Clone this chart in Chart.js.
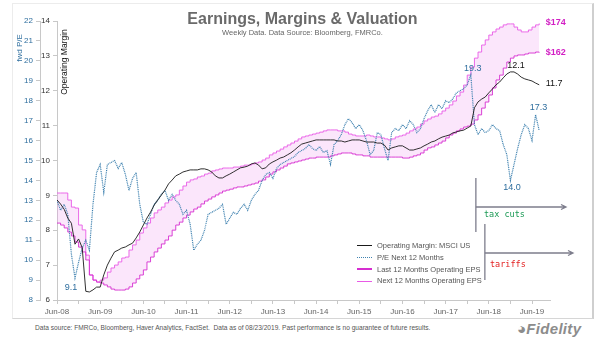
<!DOCTYPE html>
<html>
<head>
<meta charset="utf-8">
<script src="https://cdn.jsdelivr.net/npm/chart.js@4.4.1/dist/chart.umd.min.js"></script>
<style>
  body { margin: 0; background: #fff; font-family: 'Liberation Sans', Arial, sans-serif; }
  #wrap { position: relative; width: 605px; height: 341px; overflow: hidden; }
  #frame { position: absolute; left: 12px; top: 3px; width: 582px; height: 316px; box-sizing: border-box;
           border: 1px solid #ececec; border-right: 2px solid #cfcfcf; border-bottom: 1px solid #d6d6d6; }
  #box { position: absolute; left: 0; top: 0; width: 605px; height: 318px; }
  .txt { position: absolute; white-space: nowrap; }
  .rot { position: absolute; white-space: nowrap; transform: translate(-50%, -50%) rotate(-90deg); }
  #legend { position: absolute; left: 357px; top: 240px; font-size: 7.5px; color: #555; }
  #legend .row { height: 11.8px; line-height: 11.8px; display: flex; align-items: center; }
  #legend .sw { width: 15px; height: 0; margin-right: 5px; }
</style>
</head>
<body>
<div id="wrap">
  <div id="frame"></div>
  <div id="box"><canvas id="chart"></canvas></div>
  <div class="txt" style="left:0;width:605px;top:10px;text-align:center;font-size:16px;font-weight:bold;color:#6a6a6a;">Earnings, Margins &amp; Valuation</div>
  <div class="txt" style="left:0;width:605px;top:28px;text-align:center;font-size:7.5px;color:#666;">Weekly Data. Data Source: Bloomberg, FMRCo.</div>
  <div class="rot" style="left:18.5px;top:48px;font-size:8px;color:#2f6f9f;">fwd P/E</div>
  <div class="rot" style="left:63.5px;top:62px;font-size:8.5px;color:#111;">Operating Margin</div>
  <div id="legend"></div>
  <div class="txt" style="left:484px;top:209px;font-size:8.5px;color:#1b9a55;font-family:'DejaVu Sans Mono',monospace;">tax cuts</div>
  <div class="txt" style="left:490px;top:259px;font-size:8.5px;color:#e32020;font-family:'DejaVu Sans Mono',monospace;">tariffs</div>
  <div class="txt" style="left:35px;top:324px;font-size:6.6px;color:#555;">Data source: FMRCo, Bloomberg, Haver Analytics, FactSet.&nbsp; Data as of 08/23/2019. Past performance is no guarantee of future results.</div>
  <div class="txt" style="left:517px;top:320px;font-size:15px;font-weight:bold;font-style:italic;color:#8c8c8c;letter-spacing:0.3px;">&#9685;Fidelity</div>
</div>
<script>
// x axis: one value per month, starting Jun-08 (index 0) through Aug-19 (index 134)
const tickLabels = ['Jun-08', 'Jun-09', 'Jun-10', 'Jun-11', 'Jun-12', 'Jun-13',
  'Jun-14', 'Jun-15', 'Jun-16', 'Jun-17', 'Jun-18', 'Jun-19'];

const peNext12 = [
  13.0, 12.5, 12.8, 12.3, 10.3, 9.1, 9.9, 10.6, 11.0, 10.5, 12.8, 14.4,
  14.8, 13.4, 14.8, 14.9, 15.0, 14.6, 14.9, 14.3, 13.5, 14.1, 14.4, 12.8,
  11.9, 11.8, 12.3, 12.8, 13.0, 13.3, 13.5, 13.0, 13.3, 13.0, 12.8, 12.3,
  12.5, 11.8, 10.5, 10.8, 11.0, 11.5, 12.3, 12.4, 12.5, 12.6, 12.8, 11.8,
  12.1, 12.4, 12.3, 12.6, 12.8, 12.5, 13.0, 13.3, 13.5, 14.0, 14.3, 14.4,
  14.1, 14.6, 14.8, 14.9, 15.0, 15.1, 15.2, 15.4, 15.5, 15.6, 15.8, 15.6,
  15.5, 15.7, 15.4, 15.5, 14.8, 15.8, 16.0, 16.3, 16.8, 17.1, 16.9, 16.6,
  16.8, 16.5, 16.0, 15.3, 15.5, 16.4, 16.3, 15.6, 15.0, 16.4, 16.6, 16.5,
  16.8, 16.6, 17.0, 16.8, 16.4, 16.6, 17.1, 17.5, 17.8, 17.4, 17.8, 17.6,
  18.0, 17.9, 18.1, 18.4, 18.5, 18.6, 18.8, 19.3, 16.8, 16.3, 16.6, 16.4,
  16.5, 16.8, 16.6, 16.5, 15.8, 15.3, 14.0, 14.8, 15.6, 16.3, 16.8, 16.6,
  16.0, 17.3, 16.5
];

const opMargin = [
  8.87, 8.75, 8.60, 8.35, 8.20, 7.60, 7.75, 7.50, 6.25, 6.23, 6.29, 6.37,
  6.37, 6.72, 7.00, 7.20, 7.38, 7.43, 7.49, 7.52, 7.58, 7.63, 7.78, 7.95,
  8.15, 8.35, 8.52, 8.72, 8.87, 9.01, 9.15, 9.33, 9.44, 9.56, 9.61, 9.67,
  9.70, 9.73, 9.73, 9.73, 9.76, 9.76, 9.73, 9.67, 9.56, 9.50, 9.50, 9.56,
  9.61, 9.67, 9.73, 9.79, 9.81, 9.84, 9.90, 9.93, 9.87, 9.76, 9.79, 9.90,
  9.96, 10.01, 10.07, 10.10, 10.16, 10.22, 10.30, 10.39, 10.47, 10.50, 10.53, 10.56,
  10.59, 10.59, 10.59, 10.59, 10.59, 10.59, 10.56, 10.56, 10.53, 10.56, 10.59, 10.59,
  10.59, 10.56, 10.53, 10.53, 10.53, 10.50, 10.50, 10.44, 10.30, 10.36, 10.39, 10.42,
  10.42, 10.36, 10.30, 10.30, 10.33, 10.36, 10.42, 10.47, 10.53, 10.56, 10.62, 10.67,
  10.70, 10.73, 10.79, 10.82, 10.85, 10.87, 10.93, 10.99, 11.51, 11.68, 11.76, 11.82,
  11.94, 12.05, 12.17, 12.25, 12.37, 12.48, 12.54, 12.54, 12.48, 12.39, 12.34, 12.31,
  12.28, 12.22, 12.17
];

const epsLast12 = [
  91.7, 90.9, 89.7, 88.0, 86.4, 83.9, 81.8, 79.8, 76.5, 70.3, 68.2, 67.4,
  67.0, 66.2, 65.4, 64.5, 64.1, 64.1, 64.1, 64.5, 65.4, 67.0, 68.7, 70.3,
  72.4, 75.7, 77.7, 79.8, 81.4, 83.1, 84.7, 86.4, 88.8, 90.9, 92.1, 93.8,
  95.0, 96.3, 97.5, 98.3, 99.6, 100.8, 101.6, 102.5, 103.3, 104.1, 104.9, 105.3,
  105.7, 106.2, 106.6, 106.6, 107.0, 107.4, 107.8, 108.2, 109.0, 109.5, 110.7, 111.9,
  112.8, 113.6, 114.4, 115.2, 116.1, 116.5, 116.9, 117.3, 117.7, 118.1, 118.5, 118.5,
  118.9, 118.9, 118.9, 118.9, 119.4, 119.8, 120.2, 120.6, 120.6, 120.6, 120.2, 119.8,
  119.8, 119.4, 119.4, 118.9, 118.9, 118.9, 118.9, 118.9, 118.9, 118.9, 118.9, 118.9,
  118.5, 118.5, 118.9, 119.4, 119.8, 120.6, 121.8, 122.7, 123.1, 123.9, 124.7, 125.5,
  126.8, 128.0, 128.8, 129.7, 130.5, 131.3, 131.7, 132.5, 134.2, 136.3, 139.1, 141.6,
  144.5, 147.4, 150.7, 152.7, 155.6, 158.1, 159.7, 160.6, 161.0, 161.0, 161.4, 161.8,
  161.8, 162.2, 162.0
];

const epsNext12 = [
  104.1, 104.1, 104.1, 101.2, 98.3, 97.9, 90.9, 88.9, 78.5, 70.3, 68.2, 67.4,
  68.2, 69.1, 71.5, 73.2, 74.4, 75.7, 77.3, 77.7, 80.6, 82.7, 84.7, 87.6,
  89.7, 91.7, 93.8, 95.9, 97.1, 98.3, 100.0, 101.2, 102.5, 103.3, 105.3, 107.0,
  108.6, 109.5, 109.9, 110.7, 111.1, 111.9, 112.3, 113.2, 113.6, 114.0, 114.4, 114.4,
  114.4, 114.8, 114.8, 115.2, 115.6, 115.6, 116.1, 116.5, 116.9, 117.7, 118.5, 119.8,
  120.6, 121.4, 122.2, 123.1, 123.9, 124.7, 125.5, 126.4, 127.2, 127.6, 128.0, 128.4,
  128.8, 129.2, 129.7, 130.1, 130.1, 130.1, 129.7, 129.7, 129.2, 128.4, 128.0, 127.6,
  127.6, 127.6, 128.0, 127.6, 127.2, 127.2, 126.8, 126.4, 126.0, 126.4, 127.2, 127.6,
  128.0, 128.8, 129.7, 130.5, 131.3, 132.5, 133.8, 134.6, 135.4, 135.8, 136.7, 137.9,
  139.1, 140.4, 142.0, 144.1, 145.7, 148.6, 152.7, 156.0, 159.7, 162.2, 165.1, 167.2,
  169.2, 170.5, 171.7, 172.5, 173.4, 173.8, 173.8, 172.5, 171.3, 170.5, 170.5, 171.3,
  172.5, 173.4, 174.0
];

// event markers (month index)
const taxCutsMonth = 116.4;
const tariffsMonth = 118.9;

const colors = {
  margin: '#1a1a1a',
  pe: '#3f82b0',
  peText: '#2e6e9e',
  last12: '#d62ed0',
  next12: '#e95ae6',
  band: 'rgba(238, 150, 238, 0.24)',
  axis: '#c8c8c8',
  marker: '#7d7d8c'
};

const valueNotes = [
  { text: '$174', month: 134, value: 174.0, axis: 'yEps', color: '#d21fc4', dx: 6.5, dy: -1, align: 'left', bold: true },
  { text: '$162', month: 134, value: 162.0, axis: 'yEps', color: '#d21fc4', dx: 6.5, dy: 0, align: 'left', bold: true },
  { text: '12.1', month: 126, value: 12.54, axis: 'yMargin', color: '#111', dx: 5.5, dy: -6, align: 'center' },
  { text: '11.7', month: 134, value: 12.17, axis: 'yMargin', color: '#111', dx: 6.5, dy: -1, align: 'left' },
  { text: '19.3', month: 115, value: 19.3, axis: 'yPe', color: colors.peText, dx: 2, dy: -6, align: 'center' },
  { text: '17.3', month: 133, value: 17.3, axis: 'yPe', color: colors.peText, dx: 3, dy: -7, align: 'center' },
  { text: '14.0', month: 126, value: 14.0, axis: 'yPe', color: colors.peText, dx: 1.5, dy: 7, align: 'center' },
  { text: '9.1', month: 5, value: 9.1, axis: 'yPe', color: colors.peText, dx: -4, dy: 9, align: 'center' }
];

const pts = arr => arr.map((v, i) => ({ x: i, y: v }));

const arrow = (ctx, x1, y, x2) => {
  ctx.beginPath();
  ctx.moveTo(x1, y);
  ctx.lineTo(x2, y);
  ctx.moveTo(x2 - 5, y - 2.5);
  ctx.lineTo(x2, y);
  ctx.lineTo(x2 - 5, y + 2.5);
  ctx.stroke();
};

const notesPlugin = {
  id: 'notes',
  afterDatasetsDraw(chart) {
    const { ctx, scales } = chart;
    const xs = scales.x;
    ctx.save();
    // tax cuts / tariffs markers
    ctx.strokeStyle = colors.marker;
    ctx.lineWidth = 1.3;
    const xt = xs.getPixelForValue(taxCutsMonth);
    ctx.beginPath(); ctx.moveTo(xt, 178); ctx.lineTo(xt, 232); ctx.stroke();
    arrow(ctx, xt, 207, 566);
    const xr = xs.getPixelForValue(tariffsMonth);
    ctx.beginPath(); ctx.moveTo(xr, 224); ctx.lineTo(xr, 280); ctx.stroke();
    arrow(ctx, xr, 253, 573);

    // value labels
    ctx.textBaseline = 'middle';
    valueNotes.forEach(n => {
      const x = xs.getPixelForValue(n.month) + n.dx;
      const y = scales[n.axis].getPixelForValue(n.value) + n.dy;
      ctx.font = (n.bold ? 'bold ' : '') + '9px "Liberation Sans", Arial, sans-serif';
      ctx.fillStyle = n.color;
      ctx.textAlign = n.align;
      ctx.fillText(n.text, x, y);
    });
    ctx.restore();
  }
};

const datasets = [
  { label: 'Operating Margin: MSCI US', data: pts(opMargin), yAxisID: 'yMargin',
    borderColor: colors.margin, borderWidth: 0.9, order: 0 },
  { label: 'P/E Next 12 Months', data: pts(peNext12), yAxisID: 'yPe',
    borderColor: colors.pe, borderWidth: 1.2, borderDash: [1, 0.8], order: 1 },
  { label: 'Last 12 Months Operating EPS', data: pts(epsLast12), yAxisID: 'yEps',
    borderColor: colors.last12, borderWidth: 0.9, stepped: true, order: 2 },
  { label: 'Next 12 Months Operating EPS', data: pts(epsNext12), yAxisID: 'yEps',
    borderColor: colors.next12, borderWidth: 0.9, stepped: true, order: 3,
    fill: { target: 2 }, backgroundColor: colors.band }
];

// legend (html)
const legendEl = document.getElementById('legend');
const legendStyle = [
  'border-top: 1.5px solid ' + colors.margin,
  'border-top: 1.2px dotted ' + colors.pe,
  'border-top: 2.2px solid ' + colors.last12,
  'border-top: 1.2px solid ' + colors.next12
];
datasets.forEach((d, i) => {
  const row = document.createElement('div');
  row.className = 'row';
  row.innerHTML = '<span class="sw" style="' + legendStyle[i] + '"></span><span>' + d.label + '</span>';
  legendEl.appendChild(row);
});

const tickFont = { family: '"Liberation Sans", Arial, sans-serif', size: 8 };

new Chart(document.getElementById('chart').getContext('2d'), {
  type: 'line',
  data: { datasets },
  options: {
    responsive: true,
    maintainAspectRatio: false,
    animation: false,
    layout: { padding: { left: 8, right: 55, top: 21, bottom: 0 } },
    elements: { point: { radius: 0 }, line: { tension: 0 } },
    plugins: { legend: { display: false }, tooltip: { enabled: false } },
    scales: {
      x: {
        type: 'linear',
        min: 0,
        max: 137,
        grid: { drawOnChartArea: false, color: colors.axis, tickLength: 4 },
        border: { color: colors.axis },
        afterFit: s => { s.height = 18; },
        ticks: {
          stepSize: 6,
          includeBounds: false,
          autoSkip: false,
          maxRotation: 0,
          padding: 3,
          color: '#666',
          font: tickFont,
          callback: v => (v % 12 === 0 ? tickLabels[v / 12] : '')
        }
      },
      yPe: {
        position: 'left',
        weight: 2,
        min: 8,
        max: 22,
        afterFit: s => { s.width = 32; },
        grid: { drawOnChartArea: false, color: colors.axis, tickLength: 4 },
        border: { color: colors.axis, dash: [1, 1] },
        ticks: { stepSize: 1, padding: 3, color: colors.peText, font: tickFont }
      },
      yMargin: {
        position: 'left',
        weight: 1,
        min: 6,
        max: 14,
        afterFit: s => { s.width = 17; },
        grid: { drawOnChartArea: false, color: colors.axis, tickLength: 4 },
        border: { color: colors.axis },
        ticks: { stepSize: 1, padding: 3, color: '#333', font: tickFont }
      },
      yEps: {
        display: false,
        min: 60,
        max: 175
      }
    }
  },
  plugins: [notesPlugin]
});
</script>
</body>
</html>
